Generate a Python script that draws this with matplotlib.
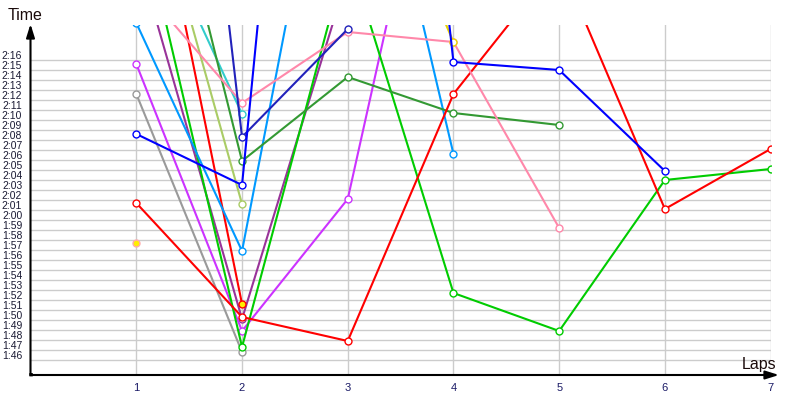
import numpy as np
import matplotlib
matplotlib.use("Agg")
import matplotlib.pyplot as plt

plt.rcParams['font.family'] = ['Liberation Sans', 'DejaVu Sans']

nan = np.nan
laps = [1, 2, 3, 4, 5, 6, 7]

# lap times in seconds (values above 2:19 run off the top of the chart)
blue = [128.1, 123.0, 231.0, 135.3, 134.5, 124.4, nan]
navy = [219.0, 127.8, 138.6, nan, nan, nan, nan]
sky = [139.2, 116.4, 171.0, 126.1, nan, nan, nan]
violet = [135.1, 108.4, 121.6, 169.0, nan, nan, nan]
grey = [132.1, 106.3, nan, nan, nan, nan, nan]
red = [121.2, 109.8, 107.4, 132.1, 145.4, 120.6, 126.6]
red2 = [163.0, 111.1, nan, nan, nan, nan, nan]
ygreen = [158.8, 121.1, nan, nan, nan, nan, nan]
teal = [153.0, 130.1, nan, nan, nan, nan, nan]
dkgreen = [167.8, 125.4, 133.8, 130.2, 129.0, nan, nan]
green = [151.8, 106.8, 146.3, 112.2, 108.4, 123.5, 124.6]
purple = [146.4, 109.6, 144.0, nan, nan, nan, nan]
pink = [143.4, 131.2, 138.3, 137.3, 118.7, nan, nan]
yellow = [nan, nan, 162.0, 137.3, nan, nan, nan]
single_lap = [1]
single_time = [117.2]

series = [
    (grey, '#9a9a9a', 'white'),
    (purple, '#993399', 'white'),
    (violet, '#cc33ff', 'white'),
    (green, '#00cc00', 'white'),
    (red2, '#ff0000', '#ffee00'),
    (sky, '#0099ff', 'white'),
    (ygreen, '#aacc66', 'white'),
    (teal, '#33cccc', 'white'),
    (dkgreen, '#339933', 'white'),
    (red, '#ff0000', 'white'),
    (pink, '#ff88aa', 'white'),
    (yellow, '#e6d200', 'white'),
    (navy, '#2222bb', 'white'),
    (blue, '#0000ff', 'white'),
]

fig = plt.figure(figsize=(8, 4), dpi=100)
ax = fig.add_axes([30.6 / 800, 25 / 400, 740 / 800, 350 / 400])

for vals, col, face in series:
    ax.plot(laps, vals, color=col, lw=1.5, marker='o', markersize=5,
            markerfacecolor=face, markeredgecolor=col, markeredgewidth=1.0)

ax.plot(single_lap, single_time, linestyle='none', marker='o', markersize=5,
        markerfacecolor='#ffee00', markeredgecolor='#ffaaaa', markeredgewidth=1.0)

ax.set_xlim(0, 7)
ax.set_ylim(104, 139)

ticks = list(range(106, 137))
ax.set_yticks(ticks)
ax.set_yticklabels(['%d:%02d' % (t // 60, t % 60) for t in ticks], fontsize=7.5,
                   color='#1a1a33')
ax.set_yticks(np.arange(105.5, 136), minor=True)
ax.set_xticks(laps)
ax.set_xticklabels([str(l) for l in laps], fontsize=8, color='#1a1a66')
ax.tick_params(axis='both', which='both', length=0)
ax.tick_params(axis='y', pad=6)
ax.tick_params(axis='x', pad=6)
ax.grid(which='minor', axis='y', color='#cccccc', lw=1)
ax.grid(which='major', axis='x', color='#cccccc', lw=1)
ax.set_axisbelow(True)
for s in ax.spines.values():
    s.set_visible(False)

# axis arrows
ax.annotate('', xy=(30.5, 376), xytext=(30.5, 25), xycoords='figure pixels',
            arrowprops=dict(arrowstyle='-|>,head_length=0.8,head_width=0.25',
                            color='black', lw=1.5, shrinkA=0, shrinkB=0))
ax.annotate('', xy=(779, 25), xytext=(30.5, 25), xycoords='figure pixels',
            arrowprops=dict(arrowstyle='-|>,head_length=0.8,head_width=0.25',
                            color='black', lw=1.5, shrinkA=0, shrinkB=0))
fig.text(30.5 / 800, 25 / 400, u'\u25a0', fontsize=5, ha='center', va='center')

fig.text(25 / 800, 385 / 400, 'Time', fontsize=11.5, ha='center', va='center', color='#1a0a0a')
fig.text(759 / 800, 36 / 400, 'Laps', fontsize=11.5, ha='center', va='center', color='#1a0a0a')

fig.savefig('out.png', dpi=100)
